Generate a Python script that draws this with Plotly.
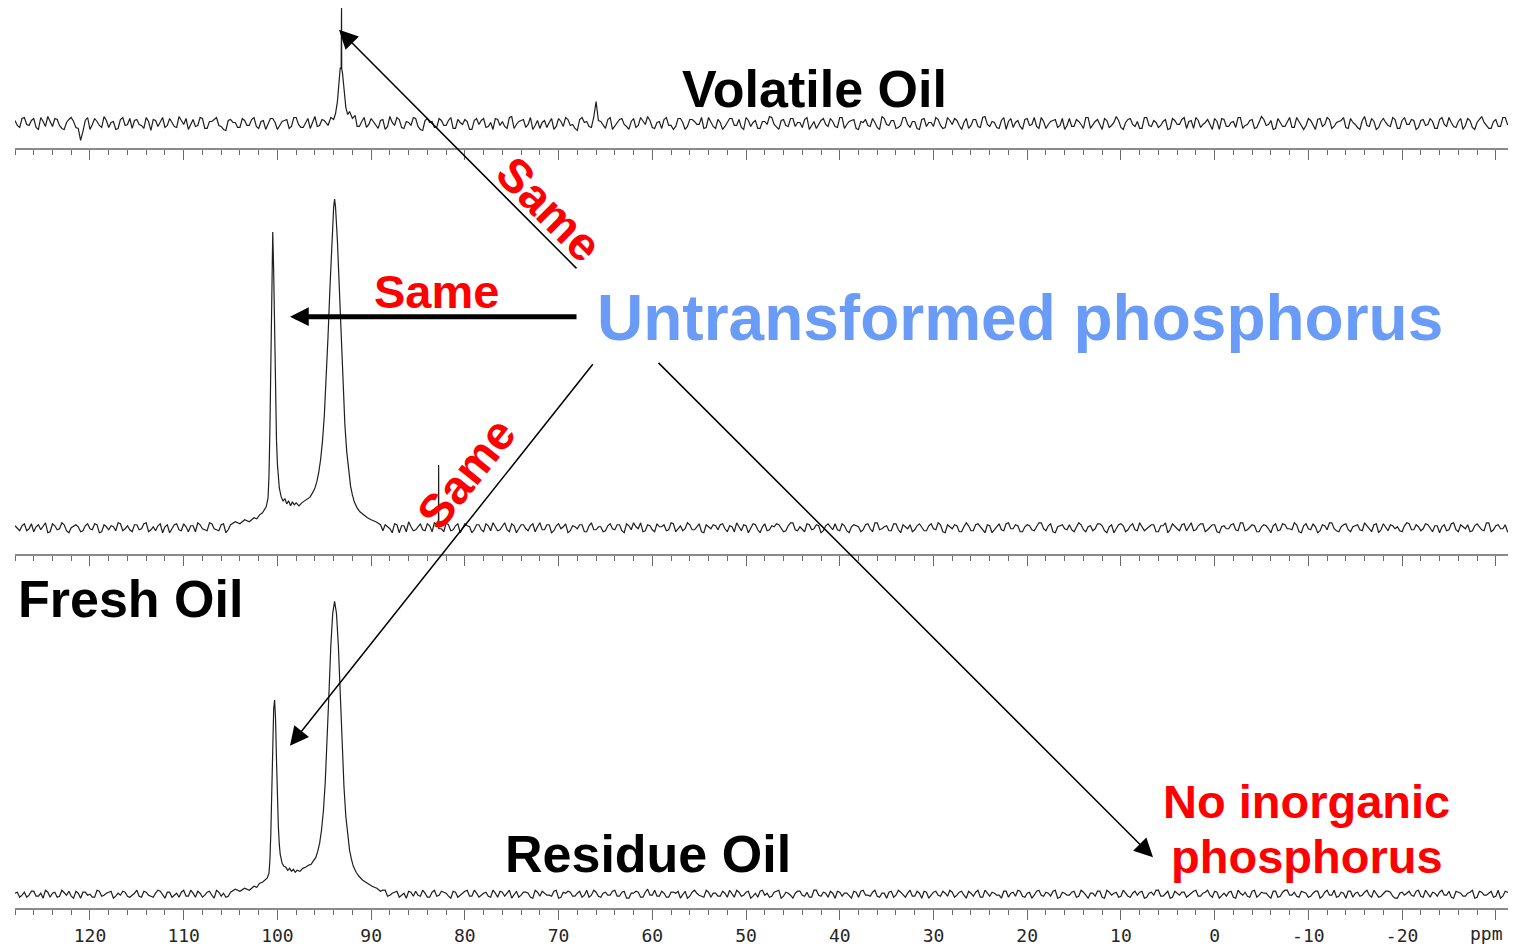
import numpy as np
import plotly.graph_objects as go

W, H = 1513, 946

# ---------------------------------------------------------------------------
# 31P NMR spectra. Baseline samples: *_noise starts at 128 ppm every 0.5 ppm,
# *_noise_mid holds the samples half-way between them (127.75 ppm, ...).
# ---------------------------------------------------------------------------
BASE_START = 128.0
BASE_STEP = 0.5

volatile_noise = [
    3, -4, 6, -2, 5, -6, 2, 7, -3, 4, -5, 1, 6, -4, -17, 3, -6, 5, -2, 7, -4, 2, -5, 6, -1,
    -5, 4, -2, 6, -7, 3, 1, -4, 5, -3, 7, -1, -6, 4, -2, 5, -5, 2, 6, -3, -7, 4, 1, -4, 3,
    -2, 6, -5, 3, -1, 5, -6, 2, 4, -3, 6, -4, 1, -5, 7, -2, 3, -6, 4, -1, 5, -3, 6, -5, 2,
    -4, 5, -1, 3, -6, 7, -2, 4, -5, 1, 6, -3, -7, 5, 2, -4, 3, -2, 6, -5, 1, 4, -6, 3, -1,
    5, -3, -6, 4, 2, -5, 7, -1, 3, -4, 6, -2, -5, 3, 1, -6, 5, -3, 4, -1, -7, 6, 2, -4, 22,
    2, -5, 6, -3, 4, -1, -6, 5, -2, 3, 7, -4, 1, -5, 6, -2, -3, 5, -6, 4, 2, -1, -5, 6, -3,
    4, -6, 1, 5, -2, -4, 6, -3, 3, -5, 2, 7, -1, -6, 4, -3, 5, 1, -4, 6, -2, -5, 3, -1, 5,
    -3, 6, -5, 2, 4, -6, 1, -2, 5, -4, 7, -1, 3, -5, -2, 6, -4, 2, -6, 5, 1, -3, 4, -5, 6,
    -1, 3, -6, 5, -2, 4, -4, 7, -3, 1, -5, 6, 2, -4, 3, -6, 5, -1, -3, 6, -5, 2, 4, -2, -6,
    5, -3, 2, -5, 6, -1, 4, -6, 3, -2, 7, -4, 1, 5, -3, -5, 6, -2, 3, -4, 2, -6, 5, -1, 4,
    -5, 3, 6, -4, 1, -2, 5, -6, 4, -3, 2, 6, -5, -1, 4, -4, 7, -2, 3, -5, 1, -3, 6, -4, 2,
    -6, 5, -2, 4, -3, 6, -5, 1, 3, -4, 5, -1, -6, 7, -3, 2, -4, 5, -2, 6, -5, 3, -1, 4, -6,
    3, -2, 5, -5, 4, -1, 6, -3, 2, -6, 5, -4, 1, 7, -2, -5, 4, -3, 6, -1, 3, -5, 2, -4, 5,
]
volatile_noise_mid = [
    -2, 5, -1, 3, -4, 6, -3, 1, 5, -2, -6, 4, 2, -5, -8, 6, -1, 2, -4, 3, 1, -6, 4, -2, 5,
    3, -1, -5, 2, 4, -3, 6, -2, 1, -4, 3, 5, -1, -3, 6, -5, 2, 4, -2, -6, 3, 1, -4, 5, -2,
    4, -3, 2, -6, 5, 1, -2, 3, -5, 6, -1, -4, 5, 2, -3, 4, -6, 1, 3, -2, 5, -4, 1, -3, 6,
    -1, 2, -5, 4, -3, 1, 6, -4, 2, -2, 5, -6, 3, 1, -4, 5, -2, 3, -5, 4, -1, 2, -6, 5, 3,
    -4, 1, 5, -2, -3, 6, -5, 2, 4, -1, -6, 3, 1, -4, 5, -3, 2, 6, -2, -5, 4, 1, -3, 6, 3,
    -2, 4, -6, 1, 5, -3, 2, -4, 6, -1, 3, -5, 2, 4, -2, -6, 5, 1, -3, 4, -1, 6, -4, 2, -5,
    1, -3, 5, -2, 4, -6, 3, 1, -5, 2, -1, 6, -4, 3, -2, 5, -3, 1, 4, -6, 2, -1, 5, -3, 2,
    -4, 6, -1, 3, -5, 2, 4, -3, 1, -6, 5, -2, 3, -4, 6, -1, 2, -5, 4, -3, 1, 6, -2, -4, 3,
    5, -2, 1, -5, 4, -3, 6, -1, 2, -4, 3, -6, 5, 1, -3, 4, -2, 6, -5, 2, -1, 3, -4, 5, -2,
    -3, 4, -1, 6, -5, 2, -2, 5, -4, 1, 3, -6, 4, -1, 2, -5, 6, -3, 1, -2, 4, -5, 3, -1, 6,
    2, -5, 3, -1, 4, -6, 2, 5, -3, 1, -4, 6, -2, 3, -5, 1, 4, -1, -6, 5, -3, 2, -4, 6, -1,
    -2, 3, -6, 5, -1, 4, -3, 2, 6, -5, 1, -4, 3, -2, 5, -6, 2, 1, -3, 4, -5, 6, -1, 3, -4,
    4, -1, 2, -5, 6, -3, 1, -4, 5, -2, 3, -6, 4, 1, -5, 2, -3, 6, -1, 4, -2, 5, -6, 3, -1,
]

fresh_noise = [
    2, -3, 4, -1, -4, 3, 1, -5, 4, -2, 5, -3, 0, 3, -4, 2, -1, 4, -5, 3, -2, 1, 5, -3, 2,
    -4, 3, -1, 5, -2, -3, 4, 1, -5, 3, -2, 4, -4, 2, 5, -1, -3, 4, -2, 3, -5, 2, 1, -3, 4,
    -1, 5, -4, 2, -2, 4, -3, 1, 3, -5, 4, -1, 2, -4, 5, -2, 3, -3, 1, 4, -5, 2, -1, 3, -4,
    5, -2, 1, -4, 3, -1, 4, -5, 2, 6, -3, 1, -2, 4, -4, 3, -1, 5, -3, 2, -5, 4, 1, -2, 3,
    -4, 2, 5, -3, 1, -2, 4, -5, 3, -1, 2, -4, 5, -2, 3, -3, 4, 1, -5, 2, -1, 3, -4, 5, -2,
    1, -3, 4, -2, 3, -5, 2, 5, -1, -4, 3, -2, 4, 1, -3, 5, -4, 2, -1, 3, -2, 4, -5, 1, 3,
    -2, 4, -4, 1, 5, -3, 2, -1, 3, -5, 4, -2, 1, 3, -4, 2, 5, -3, -1, 4, -2, 3, -5, 2, 1,
    4, -3, 2, -5, 3, 1, -2, 4, -4, 5, -1, 2, -3, 4, -5, 1, 3, -2, 4, -3, 2, -1, 5, -4, 3,
    -1, 2, -4, 5, -3, 3, 1, -5, 2, -2, 4, -3, 5, -1, 2, -4, 3, -2, 1, 5, -3, 4, -5, 2, -1,
    3, -4, 5, -2, 1, -3, 4, 2, -5, 3, -1, 4, -4, 2, -2, 5, -3, 1, 3, -4, 2, -5, 4, -1, 3,
    -3, 5, -2, 4, -4, 1, 3, -5, 2, -1, 4, -3, 5, -2, 3, -4, 1, 2, -5, 4, -2, 3, -1, 5, -4,
    2, -1, 4, -5, 3, -2, 5, -3, 1, 4, -4, 2, -2, 5, -1, 3, -5, 4, -3, 2, 1, -4, 5, -2, 3,
    -3, 4, -1, 2, -5, 3, -2, 5, -4, 1, 3, -3, 4, -2, 5, -4, 2, -1, 3, -5, 4, -2, 1, 3, -4,
]
fresh_noise_mid = [
    -1, 2, -3, 4, 1, -2, 5, -4, 2, -1, 3, -5, 2, 1, -3, 4, -2, 3, -4, 1, 2, -3, 4, -1, -2,
    3, -2, 4, -4, 1, 2, -5, 3, -1, 4, -3, 1, 2, -4, 3, -2, 5, -1, -3, 4, -2, 1, 3, -4, 2,
    -3, 4, -1, 2, -4, 3, 1, -5, 2, -2, 4, -3, 1, 3, -2, 5, -4, 2, -1, 3, -3, 4, -2, 1, -4,
    2, -1, 4, -3, 1, -5, 3, 2, -4, 1, -2, 4, -3, 2, 5, -1, -4, 3, -2, 4, -1, 2, -5, 3, -2,
    4, -3, 1, -2, 5, -4, 2, -1, 3, -3, 4, 1, -2, 3, -5, 2, -1, 4, -3, 1, 3, -4, 2, -2, 1,
    -4, 2, -1, 3, -3, 4, -2, 1, 5, -3, 2, -4, 1, 3, -2, 4, -1, -3, 5, -2, 1, -4, 3, -1, 2,
    3, -1, 2, -4, 1, 3, -5, 4, -2, 1, -3, 2, 4, -1, -3, 5, -2, 1, -4, 3, -1, 2, -3, 4, -2,
    -2, 4, -3, 1, 2, -4, 3, -1, 5, -2, 1, -3, 4, -2, 3, -1, -4, 2, 1, -3, 4, -2, 3, -5, 1,
    3, -4, 1, 2, -3, 4, -1, 3, -5, 2, -2, 4, -1, 3, -4, 1, 2, -3, 5, -1, 2, -4, 1, 3, -2,
    -2, 1, 3, -4, 2, -1, 4, -3, 1, -5, 3, 2, -2, 4, -3, 1, -1, 3, -4, 2, 5, -2, 1, -3, 4,
    1, -3, 2, 4, -2, 3, -4, 1, -1, 3, -2, 5, -3, 1, 2, -4, 3, -1, 2, -3, 4, -1, -2, 3, -5,
    4, -2, 1, -3, 2, 5, -1, -4, 3, -2, 1, 3, -3, 2, -4, 4, -2, 1, 3, -1, -3, 2, 4, -2, 1,
    -1, 3, -4, 2, 1, -3, 4, -2, 3, -1, -4, 2, 1, -3, 5, -2, 3, -1, -4, 2, 1, -2, 3, -3, 4,
]

residue_noise = [
    1, -3, 2, -1, 3, -2, -4, 2, 1, -3, 4, -1, -2, 3, -4, 2, 0, -3, 3, -1, 2, -4, 1, 3, -2,
    -1, 4, -3, 2, -2, 1, 3, -4, 2, -1, -3, 4, -2, 1, 3, -3, 2, -1, 4, -2, -3, 2, 1, -4, 3,
    -2, 1, 3, -3, 2, -4, 4, -1, 2, -2, 1, -3, 3, 2, -4, 1, -1, 3, -2, 4, -3, 1, 2, -1, -3,
    3, -2, 1, -4, 4, -1, 2, -3, 1, 3, -2, -1, 4, -3, 2, -2, 3, 1, -4, 2, -1, 3, -2, 4, -3,
    1, -2, 4, -3, 2, 1, -4, 3, -1, 2, -3, 4, -2, 1, -1, 3, -4, 2, 3, -2, 1, -3, 4, -1, 2,
    -3, 2, -1, 4, -2, 3, -4, 1, 2, -3, 5, -1, -2, 3, -3, 2, 1, -4, 3, -2, 4, -1, -3, 2, 1,
    -2, 3, -3, 1, 4, -2, 2, -4, 1, 3, -1, -3, 2, 4, -2, 1, -4, 3, -1, 2, -3, 4, -2, 1, 3,
    -4, 2, 1, -2, 3, -3, 4, -1, 2, -2, 1, -4, 3, -1, 2, -3, 4, -2, 1, 3, -4, 2, -1, 3, -2,
    2, -1, 3, -4, 1, 2, -3, 4, -2, 1, -1, 3, -3, 2, 4, -2, 1, -4, 3, -1, 2, -2, 4, -3, 1,
    -1, 3, -2, 2, -4, 1, 3, -3, 4, -1, 2, -2, 1, -3, 3, 2, -4, 1, -1, 4, -2, 3, -3, 1, 2,
    -3, 1, 4, -2, 2, -1, 3, -4, 1, 2, -3, 4, -1, -2, 3, -3, 2, 1, -4, 3, -2, 4, -1, 2, -3,
    2, -3, 1, 3, -2, 4, -1, -3, 2, -4, 3, 1, -2, 2, -1, 4, -3, 1, 3, -2, -4, 2, 1, -1, 3,
    -2, 4, -3, 1, 2, -1, 3, -4, 2, -2, 1, 4, -3, 2, -1, 3, -2, -4, 3, 1, -3, 2, 4, -1, -2,
]
residue_noise_mid = [
    2, -1, -3, 3, -2, 1, 4, -3, 2, -2, 1, 3, -4, 1, 2, -1, -3, 4, -2, 1, 3, -2, -1, 2, -3,
    1, -2, 3, -1, -3, 4, -1, 2, -3, 1, 2, -2, 4, -3, 1, -1, 3, -4, 2, 1, -2, 3, -1, 2, -3,
    3, -4, 1, 2, -1, -2, 3, -3, 1, 4, -2, 2, -1, -3, 3, 1, -2, 4, -3, 1, 2, -1, -4, 3, -2,
    -1, 2, -3, 4, -2, 1, 3, -1, -4, 2, 3, -2, 1, -3, 4, -1, 2, -2, 3, -3, 1, 4, -2, 1, -1,
    2, -3, 1, 3, -2, 4, -1, -3, 2, 1, -4, 2, 3, -1, -2, 4, -3, 1, 2, -2, 3, -1, -3, 4, -2,
    1, -1, 3, -2, 2, -4, 1, 3, -3, 2, -1, 4, -2, 1, -3, 2, 3, -1, -4, 2, 1, -2, 4, -3, 1,
    -2, 1, 4, -3, 2, -1, 3, -2, -3, 4, 1, -2, 3, -4, 2, -1, 1, 3, -2, -3, 4, -1, 2, -3, 1,
    3, -2, 1, -4, 2, 3, -1, -2, 4, -3, 1, 2, -3, 4, -1, 1, -2, 3, -4, 2, -1, 3, -2, 1, 4,
    -3, 2, -1, 3, -2, 4, -3, 1, 2, -1, -4, 3, 1, -2, 3, -3, 2, -1, 4, -2, 1, 3, -4, 2, -1,
    2, -3, 4, -1, 1, -2, 3, -4, 2, 1, -3, 4, -2, 1, -1, 3, -3, 2, 4, -2, 1, -4, 3, -1, 2,
    -1, 3, -2, 1, 4, -3, 2, -1, -2, 3, -4, 1, 2, -3, 4, -1, 1, -2, 3, -3, 2, 4, -1, -2, 3,
    1, -2, 3, -4, 2, -1, 4, -2, 1, 3, -3, 2, -1, 4, -3, 1, -2, 3, 2, -4, 1, -1, 3, -2, 4,
    -3, 1, 2, -2, 4, -1, -3, 3, 1, -2, 2, -4, 3, -1, 1, -3, 4, -2, 2, 1, -3, 3, -1, 2, -2,
]

# resonance regions (ppm, intensity)
volatile_peak_ppm = [95.0, 94.6, 94.3, 94.0, 93.8, 93.6, 93.5, 93.4, 93.3, 93.2, 93.16,
                     93.14, 93.05, 92.95, 92.85, 92.7, 92.5, 92.3, 92.0, 91.7, 91.5]
volatile_peak_int = [3, -2, 6, 4, 10, 22, 34, 48, 56, 55, 116,
                     55, 50, 38, 26, 16, 9, 12, 5, 8, -3]

fresh_peak_ppm = [105.0, 104.5, 104.0, 103.5, 103.0, 102.5, 102.2, 101.9, 101.6, 101.4,
                  101.2, 101.0, 100.9, 100.8, 100.7, 100.6, 100.5, 100.4, 100.3, 100.2,
                  100.1, 100.0, 99.9, 99.8, 99.6, 99.4, 99.2, 99.0, 98.8, 98.6,
                  98.4, 98.2, 98.0, 97.7, 97.4, 97.1, 96.8, 96.5, 96.2, 96.0,
                  95.8, 95.6, 95.4, 95.2, 95.0, 94.8, 94.6, 94.4, 94.2, 94.0,
                  93.9, 93.8, 93.6, 93.4, 93.2, 93.0, 92.8, 92.6, 92.4, 92.2,
                  92.0, 91.8, 91.5, 91.2, 90.8, 90.4, 90.0, 89.5, 89.0]
fresh_peak_int = [3, 6, 4, 8, 6, 10, 9, 13, 15, 18,
                  21, 30, 52, 100, 170, 250, 297, 258, 185, 125,
                  88, 64, 50, 40, 31, 27, 29, 24, 27, 22,
                  26, 23, 25, 22, 25, 27, 29, 31, 36, 40,
                  46, 55, 68, 86, 112, 148, 192, 240, 290, 322,
                  330, 322, 288, 240, 188, 140, 103, 76, 56, 42,
                  33, 26, 20, 16, 13, 10, 8, 6, 3]

fresh_spike_ppm = [82.82, 82.8, 82.78]
fresh_spike_int = [2, 63, -1]

residue_peak_ppm = [105.0, 104.5, 104.0, 103.5, 103.0, 102.5, 102.2, 101.9, 101.6, 101.3,
                    101.1, 100.9, 100.8, 100.7, 100.6, 100.5, 100.4, 100.3, 100.2, 100.1,
                    100.0, 99.9, 99.8, 99.7, 99.5, 99.3, 99.1, 98.9, 98.7, 98.5,
                    98.3, 98.1, 97.9, 97.6, 97.3, 97.0, 96.7, 96.4, 96.2, 95.9,
                    95.7, 95.5, 95.3, 95.1, 94.9, 94.7, 94.5, 94.3, 94.1, 93.9,
                    93.7, 93.5, 93.3, 93.1, 92.9, 92.7, 92.5, 92.3, 92.1, 91.9,
                    91.6, 91.3, 90.9, 90.4, 89.9, 89.4, 89.0]
residue_peak_int = [2, 5, 3, 6, 4, 8, 7, 11, 12, 14,
                    16, 21, 35, 62, 105, 155, 186, 195, 176, 135,
                    96, 68, 50, 40, 31, 28, 27, 24, 26, 23,
                    25, 22, 24, 23, 26, 27, 29, 30, 33, 37,
                    43, 51, 64, 83, 112, 151, 202, 250, 282, 294,
                    282, 250, 200, 148, 108, 78, 58, 44, 35, 28,
                    22, 18, 14, 11, 8, 6, 3]

# axis ticks
tick_vals = [120, 110, 100, 90, 80, 70, 60, 50, 40, 30, 20, 10, 0, -10, -20, -30]
tick_text = ["120", "110", "100", "90", "80", "70", "60", "50", "40", "30", "20", "10",
             "0", "-10", "-20", ""]
minor_vals = [v for v in range(-30, 129, 2) if v % 10 != 0]

X_RANGE = [128.0, -31.3]


def build_spectrum(noise, noise_mid, peak_ppm, peak_int, extra_ppm=(), extra_int=()):
    base_ppm = np.concatenate([
        BASE_START - BASE_STEP * np.arange(len(noise)),
        BASE_START - BASE_STEP / 2 - BASE_STEP * np.arange(len(noise_mid)),
    ])
    base_int = np.asarray(list(noise) + list(noise_mid), dtype=float)
    lo, hi = min(peak_ppm), max(peak_ppm)
    keep = (base_ppm < lo) | (base_ppm > hi)
    if len(extra_ppm):
        keep &= (base_ppm < min(extra_ppm) - 0.2) | (base_ppm > max(extra_ppm) + 0.2)
    ppm = np.concatenate([base_ppm[keep], peak_ppm, list(extra_ppm)])
    inten = np.concatenate([base_int[keep], peak_int, list(extra_int)])
    order = np.argsort(-ppm)
    return ppm[order], inten[order]


spectra = [
    ("Residue Oil", build_spectrum(residue_noise, residue_noise_mid,
                                   residue_peak_ppm, residue_peak_int), "x", "y"),
    ("Fresh Oil", build_spectrum(fresh_noise, fresh_noise_mid, fresh_peak_ppm, fresh_peak_int,
                                 fresh_spike_ppm, fresh_spike_int), "x2", "y2"),
    ("Volatile Oil", build_spectrum(volatile_noise, volatile_noise_mid,
                                    volatile_peak_ppm, volatile_peak_int), "x3", "y3"),
]

fig = go.Figure()
for name, (px, py), xa, ya in spectra:
    fig.add_trace(go.Scatter(x=px, y=py, xaxis=xa, yaxis=ya, mode="lines", name=name,
                             line=dict(color="#1e1e1e", width=1.2), hoverinfo="skip",
                             showlegend=False))

X_DOMAIN = [15 / W, 1508 / W]
TICK_FONT = dict(family="DejaVu Sans Mono", size=18, color="#262626")


def ppm_axis(anchor, labels):
    return dict(
        domain=X_DOMAIN, range=X_RANGE, anchor=anchor, showgrid=False, zeroline=False,
        showline=True, linecolor="#8a8a8a", linewidth=2,
        tickmode="array", tickvals=tick_vals, ticktext=tick_text,
        ticks="outside", ticklen=10, tickwidth=1.3, tickcolor="#6a6a6a",
        showticklabels=labels, tickfont=TICK_FONT,
        minor=dict(tickmode="array", tickvals=minor_vals, ticks="outside", ticklen=5,
                   tickwidth=1.2, tickcolor="#6a6a6a", showgrid=False),
        fixedrange=True,
    )


def y_axis(top_px, axis_px, lo, hi):
    return dict(domain=[(H - axis_px) / H, (H - top_px) / H], range=[lo, hi],
                visible=False, showgrid=False, zeroline=False, fixedrange=True)


BOLD = "Liberation Sans, Arial, sans-serif"


def label(text, cx, cy, size, color, angle=0):
    return dict(text=text, x=cx / W, y=1 - cy / H, xref="paper", yref="paper",
                xanchor="center", yanchor="middle", showarrow=False, textangle=angle,
                font=dict(family=BOLD, size=size, color=color, weight="bold"))


def arrow(tail, head, width, size):
    return dict(text="", x=head[0] / W, y=1 - head[1] / H, xref="paper", yref="paper",
                ax=tail[0] - head[0], ay=tail[1] - head[1], axref="pixel", ayref="pixel",
                showarrow=True, arrowhead=2, arrowsize=size, arrowwidth=width,
                arrowcolor="black", standoff=0, startstandoff=0)


RED = "#ff0000"
BLUE = "#6a9cf7"

annotations = [
    label("Volatile Oil", 814, 89, 52, "black"),
    label("Fresh Oil", 130, 602, 52, "black"),
    label("Residue Oil", 648, 858, 52, "black"),
    label("Untransformed phosphorus", 1020, 319, 64, BLUE),
    label("Same", 437, 293, 47, RED),
    label("Same", 549, 209, 47, RED, 45),
    label("Same", 466, 476, 47, RED, -51.5),
    label("No inorganic", 1306, 805, 47, RED),
    label("phosphorus", 1307, 860, 47, RED),
    dict(text="ppm", x=1486 / W, y=1 - 937 / H, xref="paper", yref="paper",
         xanchor="center", yanchor="middle", showarrow=False, font=TICK_FONT),
    arrow((578, 270), (339, 30), 1.5, 2.5),
    arrow((578, 318), (290, 318), 5, 0.75),
    arrow((594, 366), (290, 749), 1.5, 2.5),
    arrow((657, 365), (1153, 861), 1.5, 2.5),
]

fig.update_layout(
    width=W, height=H,
    margin=dict(l=0, r=0, t=0, b=0),
    paper_bgcolor="white", plot_bgcolor="white",
    showlegend=False,
    xaxis=ppm_axis("y", True),
    xaxis2=ppm_axis("y2", False),
    xaxis3=ppm_axis("y3", False),
    yaxis=y_axis(580, 912, -14, 318),
    yaxis2=y_axis(180, 556, -26, 350),
    yaxis3=y_axis(0, 149, -25, 124),
    annotations=annotations,
)

fig.write_html("out.html")
